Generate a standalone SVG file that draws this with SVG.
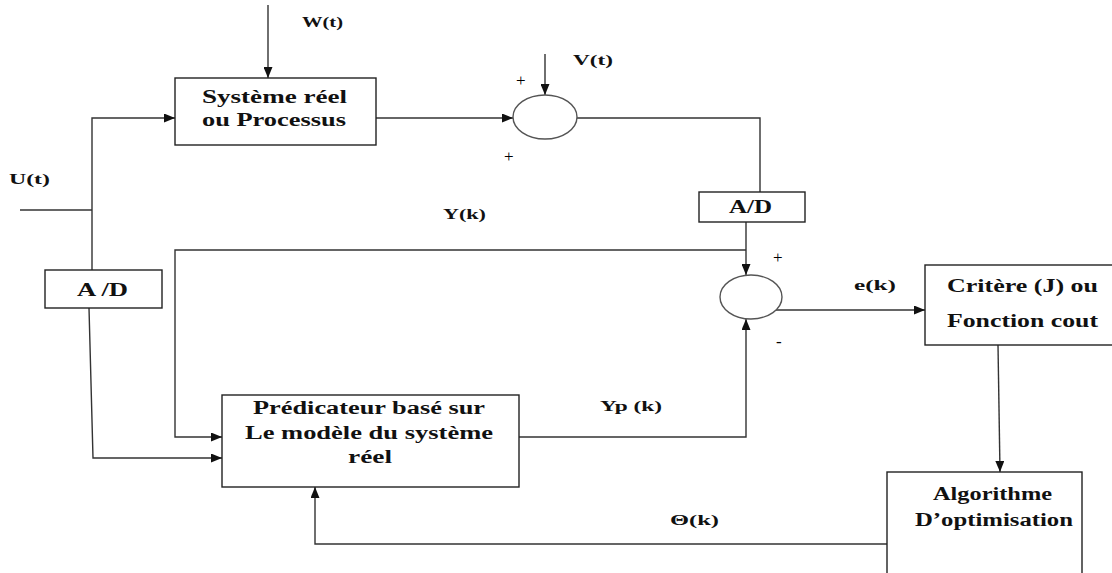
<svg xmlns="http://www.w3.org/2000/svg" width="1112" height="573" viewBox="0 0 1112 573">
<style>
.box{fill:#fff;stroke:#222;stroke-width:1.4}
.sum{fill:#fff;stroke:#555;stroke-width:1.4}
.ln{fill:none;stroke:#333;stroke-width:1.4}
.t{font-family:"Liberation Serif","Times New Roman",serif;font-weight:bold;font-size:18px;fill:#111}
.l{font-family:"Liberation Serif","Times New Roman",serif;font-weight:bold;font-size:14px;fill:#111}
.s{font-family:"Liberation Serif","Times New Roman",serif;font-size:17px;fill:#000}
</style>
<defs>
<marker id="ah" markerUnits="userSpaceOnUse" markerWidth="11" markerHeight="9" refX="11" refY="4.5" orient="auto">
<path d="M0,0 L11,4.5 L0,9 z" fill="#111"/>
</marker>
</defs>
<rect width="1112" height="573" fill="#fff"/>
<g id="connectors">
<path class="ln" d="M268,5 V78" marker-end="url(#ah)"/>
<path class="ln" d="M20,210 H92"/>
<path class="ln" d="M92,270 V118 H175" marker-end="url(#ah)"/>
<path class="ln" d="M89,308 L93,458 H222" marker-end="url(#ah)"/>
<path class="ln" d="M376,118 H513" marker-end="url(#ah)"/>
<path class="ln" d="M545,54 V95" marker-end="url(#ah)"/>
<path class="ln" d="M577,118 H760 V192"/>
<path class="ln" d="M746,222 V275" marker-end="url(#ah)"/>
<path class="ln" d="M746,250 H175 V437 H222" marker-end="url(#ah)"/>
<path class="ln" d="M519,437 H746 V319" marker-end="url(#ah)"/>
<path class="ln" d="M776,310 H925" marker-end="url(#ah)"/>
<path class="ln" d="M998,345 L1000,472" marker-end="url(#ah)"/>
<path class="ln" d="M887,544 H315 V487" marker-end="url(#ah)"/>
</g>
<g id="systeme">
<rect class="box" x="175" y="78" width="201" height="67"/>
<text class="t" x="202" y="103" textLength="145" lengthAdjust="spacingAndGlyphs">Système réel</text>
<text class="t" x="202" y="126" textLength="144" lengthAdjust="spacingAndGlyphs">ou Processus</text>
</g>
<g id="sum1">
<ellipse class="sum" cx="545" cy="117" rx="32" ry="22"/>
<text class="s" x="516" y="86">+</text>
<text class="s" x="504" y="162">+</text>
</g>
<g id="ad1">
<rect class="box" x="45" y="270" width="117" height="38"/>
<text class="t" x="77" y="296" textLength="51" lengthAdjust="spacingAndGlyphs">A /D</text>
</g>
<g id="ad2">
<rect class="box" x="699" y="192" width="106" height="30"/>
<text class="t" x="729" y="213" textLength="43" lengthAdjust="spacingAndGlyphs">A/D</text>
</g>
<g id="sum2">
<ellipse class="sum" cx="751" cy="297" rx="31" ry="22"/>
<text class="s" x="773" y="263">+</text>
<text class="s" x="776" y="347">-</text>
</g>
<g id="predicateur">
<rect class="box" x="222" y="395" width="297" height="92"/>
<text class="t" x="253" y="414" textLength="232" lengthAdjust="spacingAndGlyphs">Prédicateur  basé sur</text>
<text class="t" x="245" y="439" textLength="248" lengthAdjust="spacingAndGlyphs">Le modèle du système</text>
<text class="t" x="348" y="463" textLength="44" lengthAdjust="spacingAndGlyphs">réel</text>
</g>
<g id="critere">
<rect class="box" x="925" y="265" width="200" height="80"/>
<text class="t" x="947" y="292" textLength="151" lengthAdjust="spacingAndGlyphs">Critère  (J) ou</text>
<text class="t" x="947" y="327" textLength="151" lengthAdjust="spacingAndGlyphs">Fonction  cout</text>
</g>
<g id="algorithme">
<rect class="box" x="887" y="472" width="195" height="120"/>
<text class="t" x="933" y="500" textLength="119" lengthAdjust="spacingAndGlyphs">Algorithme</text>
<text class="t" x="915" y="526" textLength="158" lengthAdjust="spacingAndGlyphs">D’optimisation</text>
</g>
<g id="labels">
<text class="l" x="302" y="27" textLength="41" lengthAdjust="spacingAndGlyphs">W(t)</text>
<text class="l" x="573" y="65" textLength="40" lengthAdjust="spacingAndGlyphs">V(t)</text>
<text class="l" x="9" y="184" textLength="41" lengthAdjust="spacingAndGlyphs">U(t)</text>
<text class="l" x="443" y="219" textLength="43" lengthAdjust="spacingAndGlyphs">Y(k)</text>
<text class="l" x="854" y="290" textLength="42" lengthAdjust="spacingAndGlyphs">e(k)</text>
<text class="l" x="600" y="411" textLength="62" lengthAdjust="spacingAndGlyphs">Yp  (k)</text>
<text class="l" x="670" y="525" textLength="49" lengthAdjust="spacingAndGlyphs">Θ(k)</text>
</g>
</svg>
